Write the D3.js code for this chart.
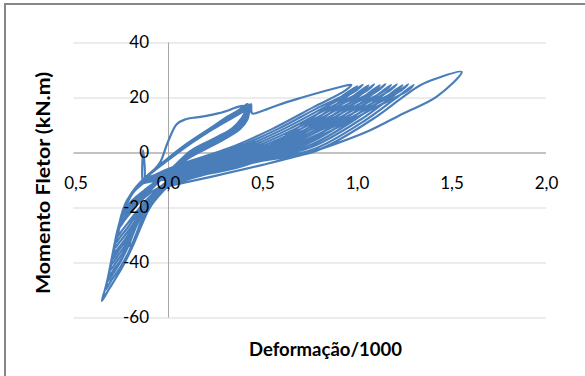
<!DOCTYPE html>
<html>
<head>
<meta charset="utf-8">
<script src="https://cdn.jsdelivr.net/npm/d3@7"></script>
<style>
  html, body { margin: 0; padding: 0; background: #fff; }
  svg { display: block; }
  text { font-family: Lato, "Open Sans", sans-serif; }
</style>
</head>
<body>
<svg id="chart" width="585" height="376"></svg>
<script>
// Axis ticks and labels
const xTickValues = [-0.5, 0, 0.5, 1, 1.5, 2];
const xTickLabels = ["0,5", "0,0", "0,5", "1,0", "1,5", "2,0"];
const yTickValues = [-60, -40, -20, 0, 20, 40];
const yTickLabels = ["-60", "-40", "-20", "0", "20", "40"];

// Moment (kN.m) against strain (/1000), in loading order: [strain, moment]
const initialLoading = [
  [-0.07, -6.0], [-0.04, -3.4], [0.00, 3.9], [0.046, 10.3], [0.09, 12.0], [0.15, 12.8],
  [0.21, 13.4], [0.27, 14.3], [0.33, 15.6], [0.37, 16.6], [0.40, 17.0]
];

// Cycles up to about 17 kN.m
const smallCycles = [
  [0.37, 15.2], [0.30, 12.4], [0.20, 7.6], [0.07, 1.3], [-0.04, -4.3], [-0.12, -9.2],
  [-0.17, -13], [-0.21, -17.5], [-0.23, -21],
  [-0.19, -17.5], [-0.13, -14], [-0.06, -10.3], [0.02, -5.8], [0.12, 0.6], [0.25, 5.3],
  [0.34, 8.8], [0.39, 12.5], [0.41, 15.0], [0.42, 17.2],

  [0.39, 15.3], [0.32, 12.8], [0.21, 7.9], [0.08, 1.6], [-0.03, -4.0], [-0.12, -9.5],
  [-0.133, -10.5], [-0.132, 0.8], [-0.128, -10.5],
  [-0.17, -13.5], [-0.22, -18], [-0.24, -23],
  [-0.20, -19.5], [-0.14, -15], [-0.07, -11], [0.01, -6.5], [0.13, 0.2], [0.27, 5.6],
  [0.36, 9.6], [0.40, 13.0], [0.42, 15.5], [0.43, 16.9],

  [0.40, 15.2], [0.33, 12.6], [0.22, 7.8], [0.09, 1.9], [-0.02, -3.6], [-0.11, -8.8],
  [-0.17, -13], [-0.22, -18.5], [-0.245, -25],
  [-0.21, -21.5], [-0.15, -16.5], [-0.08, -12], [0.00, -7.0], [0.12, -0.5], [0.26, 4.8],
  [0.36, 9.0], [0.40, 12.0], [0.42, 14.8], [0.43, 17.4],

  [0.40, 15.8], [0.34, 13.4], [0.23, 8.4], [0.10, 2.5], [-0.01, -3.2], [-0.11, -8.6],
  [-0.18, -13.8], [-0.225, -19], [-0.25, -26],
  [-0.21, -22.5], [-0.16, -18], [-0.09, -13], [0.00, -7.6], [0.12, -1.0], [0.27, 4.5],
  [0.37, 8.8], [0.41, 12.2], [0.42, 15.0], [0.42, 17.6],

  [0.39, 16.0], [0.32, 13.1], [0.21, 8.2], [0.08, 2.2], [-0.03, -3.8], [-0.12, -9.0],
  [-0.18, -13.5], [-0.23, -19.5], [-0.255, -27],
  [-0.22, -23.5], [-0.16, -18.5], [-0.09, -13.5], [-0.01, -8.2], [0.11, -1.5], [0.26, 4.0],
  [0.37, 8.4], [0.41, 11.8], [0.43, 14.6], [0.44, 17.1],

  [0.41, 15.4], [0.35, 13.0], [0.24, 8.6], [0.11, 2.8], [0.00, -2.8], [-0.10, -8.2],
  [-0.17, -13], [-0.225, -18.5], [-0.255, -26],
  [-0.22, -23], [-0.17, -18.8], [-0.10, -14], [-0.02, -8.6], [0.11, -2.0], [0.27, 3.8],
  [0.38, 8.5], [0.42, 12.0], [0.43, 15.0], [0.44, 17.6]
];

// Cycles up to about 24.5 kN.m
const largeCycles = [
  [0.445, 14.2], [0.49, 14.9], [0.58, 17.2], [0.70, 19.8], [0.82, 22.2], [0.92, 24.0], [0.97, 24.6],
  [0.935, 22.4], [0.77, 16.5], [0.55, 8.5], [0.32, 1.5], [0.12, -3.0], [0.00, -6.0], [-0.08, -8.5], [-0.13, -10.0],
  [-0.165, -12.8], [-0.195, -15.5], [-0.222, -19.5], [-0.243, -23.5], [-0.265, -28],
  [-0.24, -25.5], [-0.20, -22], [-0.15, -18], [-0.09, -14.5], [-0.03, -12],
  [0.00, -10.2], [0.25, -4.7], [0.50, 1.1], [0.75, 12.0], [0.90, 19.5], [1.00, 24.2],
  [0.965, 22.0], [0.80, 16.5], [0.58, 8.5], [0.35, 1.5], [0.14, -3.2], [0.00, -6.3], [-0.08, -8.7], [-0.13, -10.2],
  [-0.168, -13], [-0.198, -16], [-0.225, -20], [-0.247, -24.5], [-0.262, -28], [-0.273, -31],
  [-0.245, -28.5], [-0.205, -25], [-0.16, -21], [-0.11, -17], [-0.05, -13.2],
  [0.00, -10.4], [0.25, -4.9], [0.50, 0.7], [0.78, 12.0], [0.93, 19.5], [1.03, 24.7],
  [0.995, 22.5], [0.83, 16.5], [0.61, 8.5], [0.38, 1.5], [0.16, -3.5], [0.00, -6.6], [-0.08, -8.9], [-0.13, -10.3],
  [-0.17, -13], [-0.20, -16], [-0.228, -20.5], [-0.25, -25], [-0.266, -29.5], [-0.279, -33],
  [-0.25, -30.5], [-0.21, -27], [-0.17, -23], [-0.12, -18.5], [-0.06, -14],
  [0.00, -10.6], [0.25, -5.1], [0.50, 0.4], [0.66, 5.6], [0.81, 12.0], [0.96, 19.5], [1.06, 24.4],
  [1.025, 22.2], [0.86, 16.5], [0.64, 8.5], [0.41, 1.5], [0.18, -3.8], [0.01, -7.0], [-0.08, -9.0], [-0.13, -10.4],
  [-0.17, -13.2], [-0.20, -16.3], [-0.23, -21], [-0.252, -26], [-0.27, -31], [-0.285, -35],
  [-0.255, -32.5], [-0.215, -29], [-0.175, -25], [-0.13, -20], [-0.07, -15],
  [0.00, -10.8], [0.25, -5.3], [0.50, 0.0], [0.67, 5.2], [0.84, 12.0], [0.99, 19.5], [1.09, 24.8],
  [1.055, 22.6], [0.89, 16.5], [0.67, 8.5], [0.44, 1.5], [0.20, -4.0], [0.02, -7.2], [-0.08, -9.2], [-0.13, -10.5],
  [-0.172, -13.2], [-0.203, -16.5], [-0.232, -21], [-0.254, -26], [-0.271, -31], [-0.282, -34], [-0.291, -37],
  [-0.26, -34.5], [-0.22, -31], [-0.18, -26.5], [-0.135, -21], [-0.075, -15.5],
  [0.00, -11.0], [0.25, -5.5], [0.50, -0.4], [0.69, 5.0], [0.87, 12.0], [1.02, 19.5], [1.12, 24.5],
  [1.085, 22.3], [0.92, 16.5], [0.70, 8.5], [0.47, 1.5], [0.22, -4.3], [0.03, -7.5], [-0.07, -9.3], [-0.13, -10.6],
  [-0.174, -13.4], [-0.205, -16.8], [-0.234, -21.5], [-0.256, -26.5], [-0.273, -31.5], [-0.287, -36], [-0.297, -39],
  [-0.265, -36], [-0.225, -32], [-0.19, -27.5], [-0.145, -22], [-0.08, -16],
  [0.00, -11.2], [0.25, -5.7], [0.50, -0.8], [0.70, 4.5], [0.90, 12.0], [1.05, 19.5], [1.15, 24.9],
  [1.115, 22.7], [0.95, 16.5], [0.73, 8.5], [0.50, 1.5], [0.25, -4.5], [0.04, -7.8], [-0.07, -9.5], [-0.13, -10.7],
  [-0.175, -13.5], [-0.207, -17], [-0.236, -21.5], [-0.258, -27], [-0.275, -32], [-0.29, -37], [-0.303, -41],
  [-0.27, -38], [-0.23, -34], [-0.195, -29], [-0.205, -34], [-0.19, -30], [-0.15, -23], [-0.09, -17], [-0.03, -13],
  [0.00, -11.5], [0.25, -5.9], [0.50, -1.2], [0.72, 4.0], [0.93, 12.0], [1.08, 19.5], [1.18, 24.6],
  [1.145, 22.4], [0.98, 16.5], [0.76, 8.5], [0.53, 1.5], [0.27, -4.8], [0.05, -8.0], [-0.07, -9.6], [-0.13, -10.8],
  [-0.177, -13.6], [-0.209, -17.2], [-0.238, -22], [-0.26, -27.5], [-0.277, -32.5], [-0.292, -37.5], [-0.309, -43],
  [-0.275, -40], [-0.235, -36], [-0.20, -31], [-0.16, -25], [-0.11, -19], [-0.05, -14.5],
  [0.00, -11.7], [0.25, -6.2], [0.50, -1.5], [0.74, 3.3], [0.96, 12.0], [1.11, 19.5], [1.21, 24.8],
  [1.175, 22.6], [1.01, 16.5], [0.79, 8.5], [0.56, 1.5], [0.29, -5.0], [0.06, -8.3], [-0.06, -9.8], [-0.13, -10.9],
  [-0.178, -13.7], [-0.21, -17.4], [-0.24, -22], [-0.262, -27.5], [-0.279, -33], [-0.295, -38.5], [-0.305, -42], [-0.315, -45],
  [-0.28, -42], [-0.24, -38], [-0.205, -33], [-0.17, -27], [-0.12, -20.5], [-0.06, -15.5],
  [0.00, -11.9], [0.25, -6.4], [0.50, -1.9], [0.75, 2.6], [0.99, 12.0], [1.14, 19.5], [1.24, 24.5],
  [1.205, 22.3], [1.04, 16.5], [0.82, 8.5], [0.59, 1.5], [0.31, -5.3], [0.07, -8.5], [-0.06, -9.9], [-0.13, -11.0],
  [-0.18, -13.8], [-0.212, -17.6], [-0.242, -22.5], [-0.264, -28], [-0.281, -33.5], [-0.297, -39], [-0.31, -43.5], [-0.321, -47],
  [-0.29, -44], [-0.25, -39.5], [-0.21, -34], [-0.175, -28], [-0.13, -21.5], [-0.07, -16],
  [0.00, -12.1], [0.25, -6.6], [0.50, -2.3], [0.76, 2.0], [1.02, 12.0], [1.17, 19.5], [1.27, 24.8],
  [1.235, 22.6], [1.07, 16.5], [0.85, 8.5], [0.62, 1.5], [0.33, -5.5], [0.08, -8.8], [-0.06, -10.0], [-0.13, -11.0],
  [-0.182, -14], [-0.214, -18], [-0.244, -23], [-0.266, -28.5], [-0.283, -34], [-0.299, -39.5], [-0.314, -45], [-0.331, -50],
  [-0.30, -46.5], [-0.255, -42], [-0.21, -36.5], [-0.17, -30], [-0.13, -23], [-0.075, -17],
  [0.00, -12.3], [0.25, -6.8], [0.50, -2.6], [0.77, 1.2], [1.05, 12.0], [1.20, 19.5], [1.30, 24.6],
  [1.265, 22.4], [1.10, 16.5], [0.88, 8.5], [0.65, 1.5], [0.35, -5.8], [0.09, -9.0], [-0.05, -10.2], [-0.13, -11.2],
  [-0.185, -14], [-0.217, -18.2], [-0.246, -23], [-0.268, -28.5], [-0.285, -34], [-0.302, -40], [-0.318, -45.5], [-0.334, -50], [-0.35, -54],
  [-0.315, -50], [-0.27, -45], [-0.225, -39.5], [-0.18, -33], [-0.14, -26.5], [-0.10, -20.5], [-0.045, -15.5],
  [0.00, -12.5], [0.25, -7.0], [0.50, -3.0], [0.78, 0.5], [1.08, 12.0], [1.23, 19.5], [1.33, 24.3]
];

// Last cycle, peak near 1.55
const finalCycle = [
  [1.42, 26.9], [1.554, 29.3], [1.42, 20.2], [1.245, 14.2], [1.07, 8.1], [0.90, 3.5],
  [0.73, -0.4], [0.50, -4.5], [0.25, -8.5], [0.05, -11.5], [-0.05, -13]
];

const series = initialLoading.concat(smallCycles, largeCycles, finalCycle);

// Layout
const svg = d3.select("#chart");
const x = d3.scaleLinear().domain([-0.5, 2]).range([73.5, 546]);
const y = d3.scaleLinear().domain([-60, 40]).range([317.5, 42.5]);

// Chart frame
svg.append("rect")
  .attr("x", 5).attr("y", 4)
  .attr("width", 620).attr("height", 420)
  .attr("fill", "#fff")
  .attr("stroke", "#868686")
  .attr("stroke-width", 2);

// Horizontal gridlines
svg.append("g")
  .selectAll("line")
  .data(yTickValues.filter(v => v !== 0))
  .join("line")
  .attr("x1", x(-0.5)).attr("x2", x(2))
  .attr("y1", d => y(d) + 0.5).attr("y2", d => y(d) + 0.5)
  .attr("stroke", "#d9d9d9")
  .attr("stroke-width", 1);

// Axis lines crossing at the origin
svg.append("line")
  .attr("x1", x(-0.5)).attr("x2", x(2))
  .attr("y1", y(0) + 0.5).attr("y2", y(0) + 0.5)
  .attr("stroke", "#868686");
svg.append("line")
  .attr("x1", x(0) + 0.5).attr("x2", x(0) + 0.5)
  .attr("y1", y(40)).attr("y2", y(-60))
  .attr("stroke", "#a6a6a6");

// Hysteresis curve
const line = d3.line()
  .x(d => x(d[0]))
  .y(d => y(d[1]))
  .curve(d3.curveCatmullRom.alpha(0.5));

svg.append("path")
  .datum(series)
  .attr("d", line)
  .attr("fill", "none")
  .attr("stroke", "#4a7ebb")
  .attr("stroke-width", 2.2)
  .attr("stroke-linejoin", "round")
  .attr("stroke-linecap", "round");

// Tick labels
const yAxis = d3.axisLeft(y)
  .tickValues(yTickValues)
  .tickSize(0)
  .tickPadding(19)
  .tickFormat((d, i) => yTickLabels[i]);
const gy = svg.append("g").attr("transform", `translate(${x(0)},0)`).call(yAxis);
gy.select(".domain").remove();

const xAxis = d3.axisBottom(x)
  .tickValues(xTickValues)
  .tickSize(0)
  .tickPadding(24)
  .tickFormat((d, i) => xTickLabels[i]);
const gx = svg.append("g").attr("transform", `translate(0,${y(0)})`).call(xAxis);
gx.select(".domain").remove();
gx.selectAll(".tick text").attr("dx", (d, i) => i === 0 ? 2 : 0);

svg.selectAll(".tick text")
  .attr("font-family", "Lato, 'Open Sans', sans-serif")
  .attr("font-size", 17)
  .attr("fill", "#000");

// Axis titles
svg.append("text")
  .attr("transform", "translate(42,183) rotate(-90)")
  .attr("text-anchor", "middle")
  .attr("dominant-baseline", "central")
  .attr("font-size", 19)
  .attr("font-weight", "bold")
  .attr("textLength", 222)
  .attr("lengthAdjust", "spacingAndGlyphs")
  .text("Momento Fletor (kN.m)");

svg.append("text")
  .attr("x", 325.5).attr("y", 348)
  .attr("text-anchor", "middle")
  .attr("dominant-baseline", "central")
  .attr("font-size", 19)
  .attr("font-weight", "bold")
  .attr("textLength", 153)
  .attr("lengthAdjust", "spacingAndGlyphs")
  .text("Deformação/1000");
</script>
</body>
</html>
